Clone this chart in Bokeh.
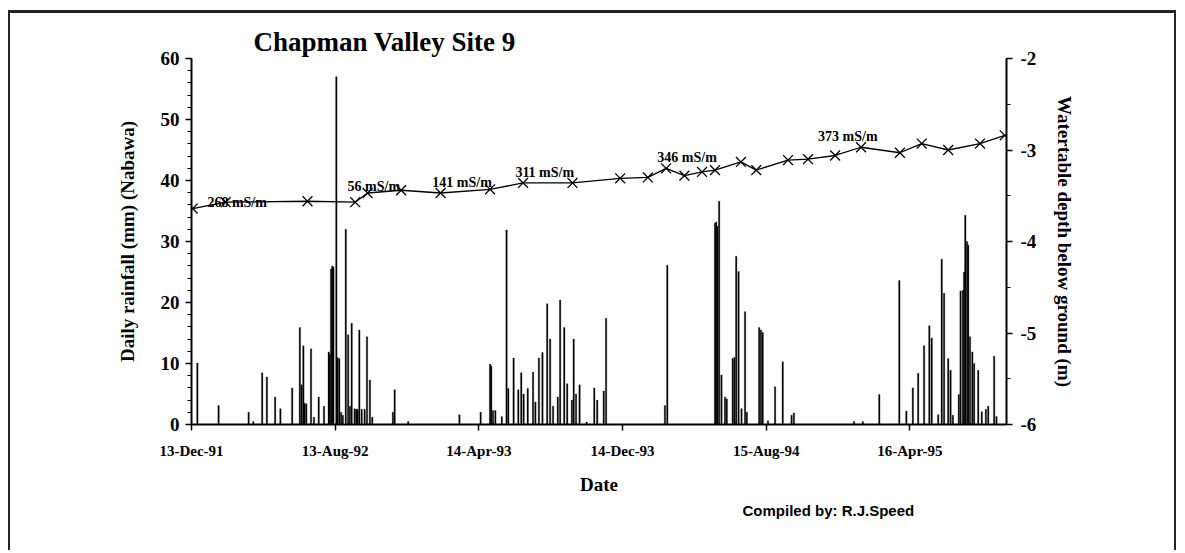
import pandas as pd
from bokeh.plotting import figure
from bokeh.models import (Range1d, LinearAxis, SingleIntervalTicker, FixedTicker,
                          DatetimeTickFormatter, Title, ColumnDataSource)
from bokeh.core.properties import value
from bokeh.embed import file_html
from bokeh.resources import INLINE

# ---------------- data ----------------
rain_dates = [
    "1991-12-23", "1992-01-28", "1992-03-19", "1992-03-27", "1992-04-11", "1992-04-19",
    "1992-05-03", "1992-05-12", "1992-06-01", "1992-06-14", "1992-06-17", "1992-06-20",
    "1992-06-22", "1992-06-25", "1992-07-03", "1992-07-08", "1992-07-16", "1992-07-25",
    "1992-08-02", "1992-08-04", "1992-08-06", "1992-08-08", "1992-08-10", "1992-08-15",
    "1992-08-17", "1992-08-20", "1992-08-23", "1992-08-26", "1992-08-31", "1992-09-04",
    "1992-09-07", "1992-09-10", "1992-09-15", "1992-09-18", "1992-09-20", "1992-09-23",
    "1992-09-27", "1992-10-02", "1992-10-06", "1992-10-11", "1992-10-15", "1992-11-19",
    "1992-11-22", "1992-12-15",
    "1993-03-12", "1993-04-17", "1993-05-03", "1993-05-05", "1993-05-08", "1993-05-12",
    "1993-05-23", "1993-05-31", "1993-06-03", "1993-06-12", "1993-06-20", "1993-06-25",
    "1993-06-29", "1993-07-06", "1993-07-15", "1993-07-19", "1993-07-25", "1993-07-31",
    "1993-08-08", "1993-08-13", "1993-08-18", "1993-08-26", "1993-08-30", "1993-09-06",
    "1993-09-11", "1993-09-19", "1993-09-22", "1993-09-26", "1993-10-02", "1993-10-14",
    "1993-10-27", "1993-11-01", "1993-11-12", "1993-11-16",
    "1994-02-24", "1994-02-28", "1994-05-20", "1994-05-22", "1994-05-24", "1994-05-27",
    "1994-05-31", "1994-06-06", "1994-06-09", "1994-06-19", "1994-06-22", "1994-06-25",
    "1994-06-29", "1994-07-04", "1994-07-10", "1994-07-13", "1994-08-03", "1994-08-06",
    "1994-08-09", "1994-08-18", "1994-08-30", "1994-09-12", "1994-09-27", "1994-10-01",
    "1995-01-11", "1995-01-26", "1995-02-23", "1995-03-29", "1995-04-10", "1995-04-21",
    "1995-04-30", "1995-05-10", "1995-05-19", "1995-05-23", "1995-06-03", "1995-06-09",
    "1995-06-13", "1995-06-20", "1995-06-24", "1995-06-28", "1995-07-08", "1995-07-11",
    "1995-07-15", "1995-07-17", "1995-07-19", "1995-07-22", "1995-07-24", "1995-07-27",
    "1995-07-31", "1995-08-03", "1995-08-10", "1995-08-16", "1995-08-23", "1995-08-27",
    "1995-09-06", "1995-09-10",
]
rain_mm = [
    10.1, 3.1, 2.0, 0.5, 8.5, 7.8,
    4.5, 2.6, 6.0, 15.9, 6.5, 12.9,
    3.5, 3.4, 12.4, 1.2, 4.5, 3.0,
    11.9, 11.5, 25.5, 26.0, 25.8, 57.0,
    11.0, 10.8, 2.0, 1.5, 32.0, 14.7,
    3.0, 16.6, 2.6, 2.5, 2.5, 15.5,
    2.5, 2.5, 14.4, 7.3, 1.2, 2.0,
    5.7, 0.5,
    1.6, 2.0, 9.9, 9.6, 2.3, 2.3,
    1.3, 31.9, 5.9, 10.9, 5.7, 8.5,
    5.0, 5.9, 8.6, 3.7, 10.9, 11.8,
    19.8, 14.0, 3.0, 4.5, 20.4, 15.9,
    6.7, 4.0, 14.0, 5.0, 6.5, 0.4,
    6.0, 4.0, 5.5, 17.4,
    3.1, 26.1, 33.0, 33.2, 32.5, 36.6,
    8.1, 4.5, 4.2, 10.8, 11.0, 27.6,
    25.1, 2.6, 18.5, 2.0, 15.9, 15.5,
    15.1, 0.6, 6.2, 10.3, 1.5, 1.9,
    0.5, 0.5, 4.9, 23.6, 2.2, 6.0,
    8.4, 12.9, 16.2, 14.2, 1.6, 27.1,
    21.5, 10.8, 8.9, 1.5, 4.9, 21.9,
    22.0, 25.0, 34.3, 30.0, 29.4, 14.4,
    11.9, 10.0, 8.9, 2.1, 2.5, 3.0,
    11.2, 1.3,
]

wt_dates = [
    "1991-12-15", "1992-02-09", "1992-06-27", "1992-09-16", "1992-10-07", "1992-12-03",
    "1993-02-08", "1993-05-03", "1993-06-28", "1993-09-20", "1993-12-10", "1994-01-26",
    "1994-02-26", "1994-03-29", "1994-04-28", "1994-05-20", "1994-07-03", "1994-07-29",
    "1994-09-21", "1994-10-25", "1994-12-10", "1995-01-23", "1995-03-30", "1995-05-06",
    "1995-06-20", "1995-08-13", "1995-09-24",
]
wt_depth = [
    -3.64, -3.57, -3.56, -3.57, -3.47, -3.44,
    -3.47, -3.43, -3.36, -3.36, -3.31, -3.30,
    -3.20, -3.28, -3.24, -3.22, -3.13, -3.22,
    -3.11, -3.10, -3.06, -2.97, -3.03, -2.93,
    -3.00, -2.93, -2.84,
]

ec_text = ["268 mS/m", "56 mS/m", "141 mS/m", "311 mS/m", "346 mS/m", "373 mS/m"]
ec_dates = ["1992-01-09", "1992-09-03", "1993-01-25", "1993-06-15", "1994-02-11", "1994-11-11"]
ec_depth = [-3.57, -3.40, -3.36, -3.25, -3.08, -2.85]

tick_dates = ["1991-12-13", "1992-08-13", "1993-04-14", "1993-12-14", "1994-08-15", "1995-04-16"]
depth_ticks = [-2, -3, -4, -5, -6]
x_start, x_end = "1991-12-13", "1995-09-27"


def ms(d):
    return pd.Timestamp(d).value / 1e6


# ---------------- figure ----------------
SERIF = "Liberation Serif"
DAY_MS = 86400000
W, H = 1168, 540
OX, OY = 10, 13          # page position of the canvas (margin + border)

p = figure(width=W, height=H, x_axis_type="datetime",
           x_range=Range1d(ms(x_start), ms(x_end)),
           y_range=Range1d(0, 60),
           output_backend="svg", toolbar_location=None,
           min_border_left=191 - OX, min_border_right=W - (1006 - OX),
           min_border_top=58 - OY, min_border_bottom=H - (424 - OY))
p.margin = (10, 0, 0, 8)
p.styles = {"border-left": "2px solid #222222", "border-top": "3px solid #222222",
            "border-right": "2px solid #222222"}
p.xgrid.visible = False
p.ygrid.visible = False
p.outline_line_color = None
p.background_fill_color = "white"
p.border_fill_color = "white"

rain_src = ColumnDataSource(dict(x=pd.to_datetime(rain_dates), top=rain_mm))
p.vbar(x="x", top="top", bottom=0, width=2.4 * DAY_MS, source=rain_src,
       fill_color="black", line_color="black", line_width=0.3)

p.extra_y_ranges = {"depth": Range1d(-6, -2)}
wt_src = ColumnDataSource(dict(x=pd.to_datetime(wt_dates), y=wt_depth))
p.line("x", "y", source=wt_src, y_range_name="depth", line_color="black", line_width=1.3)
p.scatter("x", "y", source=wt_src, y_range_name="depth", marker="x", size=14,
          line_color="black", line_width=1.3)

ec_src = ColumnDataSource(dict(x=pd.to_datetime(ec_dates), y=ec_depth, t=ec_text))
p.text("x", "y", text="t", source=ec_src, y_range_name="depth",
       text_font=value(SERIF), text_font_style="bold", text_font_size="14px",
       text_align="left", text_baseline="middle", text_color="black")

# x axis
xa = p.xaxis[0]
xa.ticker = FixedTicker(ticks=[ms(d) for d in tick_dates])
fmt = "%d-%b-%y"
xa.formatter = DatetimeTickFormatter(milliseconds=fmt, seconds=fmt, minsec=fmt, minutes=fmt,
                                     hourmin=fmt, hours=fmt, days=fmt, months=fmt, years=fmt)
xa.axis_label = "Date"

# left axis
ya = p.yaxis[0]
ya.ticker = SingleIntervalTicker(interval=10, num_minor_ticks=5)
ya.axis_label = "Daily rainfall (mm) (Nabawa)"

# right axis
ra = LinearAxis(y_range_name="depth", ticker=SingleIntervalTicker(interval=1, num_minor_ticks=2),
                axis_label="Watertable depth below ground (m)")
ra.major_label_overrides = {t: str(t) for t in depth_ticks}
p.add_layout(ra, "right")

for ax in (xa, ya, ra):
    ax.axis_line_color = "black"
    ax.axis_line_width = 2
    ax.major_tick_line_color = "black"
    ax.major_tick_line_width = 1.5
    ax.minor_tick_line_color = "black"
    ax.minor_tick_line_width = 1.2
    ax.major_tick_in = 0
    ax.major_tick_out = 6
    ax.minor_tick_in = 0
    ax.minor_tick_out = 4
    ax.major_label_text_font = SERIF
    ax.major_label_text_font_style = "bold"
    ax.major_label_text_color = "black"
    ax.axis_label_text_font = SERIF
    ax.axis_label_text_font_style = "bold"
    ax.axis_label_text_font_size = "19px"
    ax.axis_label_text_color = "black"

xa.major_label_text_font_size = "15px"
xa.minor_tick_line_color = None
xa.major_label_standoff = 12
xa.axis_label_standoff = 12
ya.major_label_text_font_size = "19px"
ya.major_label_standoff = 6
ya.axis_label_standoff = 20
ra.major_label_text_font_size = "19px"
ra.major_label_standoff = 8
ra.axis_label_standoff = 15

# title and credit
p.title.text = "Chapman Valley Site 9"
p.title.align = "left"
p.title.offset = 62
p.title.standoff = 4
p.title.text_font = SERIF
p.title.text_font_style = "bold"
p.title.text_font_size = "27px"
p.title.text_color = "black"

credit = Title(text="Compiled by: R.J.Speed", align="left", offset=551, standoff=4,
               text_font="Liberation Sans", text_font_style="bold", text_font_size="15px",
               text_color="black")
p.add_layout(credit, "below")

open("out.html", "w").write(file_html(p, INLINE))
